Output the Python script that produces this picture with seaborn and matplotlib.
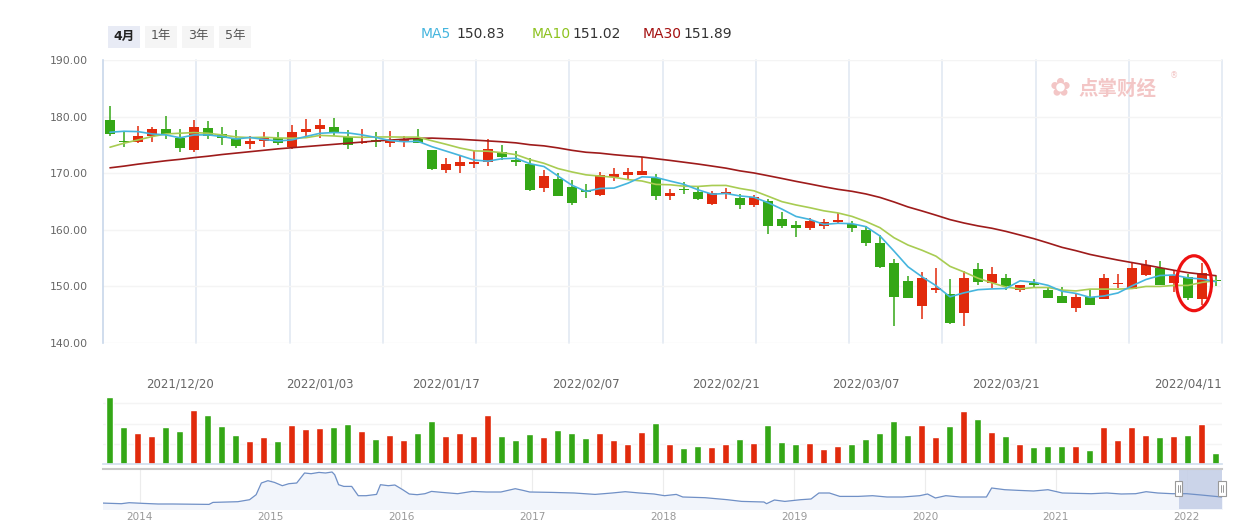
import matplotlib
matplotlib.use('Agg')
import matplotlib.pyplot as plt
import matplotlib.transforms as mtransforms
from matplotlib.patches import Ellipse, Rectangle
import numpy as np
import pandas as pd
import seaborn as sns

# daily candles, 80 sessions 2021/12 - 2022/04
opens = [179.4, 175.75, 175.6, 176.5, 177.8, 176.3, 174.1, 177.9, 176.9, 176.2,
         175.2, 175.75, 176.3, 174.7, 177.2, 177.8, 178.1, 176.35, 175.25, 175.9,
         175.3, 175.75, 176.3, 174.1, 170.5, 171.2, 171.55, 171.9, 173.7, 172.35,
         171.65, 167.3, 169.0, 167.6, 167.05, 166.2, 169.3, 169.7, 169.75, 169.2,
         165.9, 167.25, 166.7, 164.6, 166.4, 165.65, 164.4, 165.05, 161.95, 160.9,
         160.4, 160.6, 161.4, 161.1, 160.0, 157.65, 154.2, 151.0, 146.45, 149.3,
         148.65, 145.25, 153.1, 150.55, 151.55, 149.4, 150.65, 149.4, 148.35, 146.1,
         148.2, 147.8, 150.35, 149.55, 152.05, 153.3, 150.65, 151.7, 147.8, 151.2]
closes = [176.9, 175.6, 176.6, 177.8, 176.9, 174.4, 178.1, 176.65, 176.3, 174.8,
          175.7, 176.35, 175.3, 177.3, 177.8, 178.5, 177.05, 174.95, 175.55, 175.5,
          175.8, 176.05, 175.25, 170.8, 171.65, 171.9, 172.0, 174.3, 172.95, 172.05,
          167.05, 169.55, 165.9, 164.8, 166.6, 169.65, 169.9, 170.25, 170.4, 166.05,
          166.5, 166.95, 165.45, 166.5, 166.7, 164.3, 165.75, 160.75, 160.75, 160.25,
          161.6, 161.4, 161.75, 160.4, 157.6, 153.4, 148.05, 147.9, 151.55, 149.75,
          143.55, 151.55, 150.7, 152.25, 150.1, 150.3, 150.3, 148.0, 147.0, 148.2,
          146.8, 151.55, 150.65, 153.3, 153.8, 150.3, 152.05, 148.0, 152.4, 151.0]
highs = [181.9, 177.35, 178.35, 178.2, 180.1, 177.8, 179.4, 179.25, 178.2, 177.65,
         176.6, 177.2, 177.2, 178.6, 179.6, 179.6, 179.8, 177.65, 177.8, 177.3,
         177.5, 176.6, 177.8, 174.1, 172.65, 173.05, 173.95, 176.0, 175.0, 173.95,
         172.65, 170.6, 170.0, 168.8, 168.1, 170.25, 170.95, 170.95, 172.9, 169.9,
         167.25, 168.4, 167.65, 166.9, 167.4, 166.35, 166.2, 165.45, 163.2, 161.6,
         162.1, 161.95, 163.05, 161.6, 160.6, 159.0, 154.9, 151.9, 152.6, 153.3,
         151.25, 152.75, 154.2, 153.45, 152.25, 150.3, 151.25, 149.8, 149.95, 148.75,
         149.6, 152.25, 152.25, 154.3, 154.65, 154.4, 152.95, 152.25, 154.2, 151.9]
lows = [176.5, 174.7, 175.3, 175.6, 176.1, 173.8, 173.8, 176.1, 175.0, 174.5,
        174.3, 174.7, 174.9, 174.25, 176.5, 176.3, 176.5, 174.25, 175.1, 174.7,
        174.7, 174.55, 175.25, 170.5, 170.1, 170.1, 171.0, 171.35, 172.35, 171.2,
        166.9, 166.6, 165.9, 164.45, 165.55, 165.9, 168.65, 169.0, 169.6, 165.3,
        165.3, 166.4, 165.3, 164.4, 165.45, 163.7, 163.95, 159.2, 160.35, 158.65,
        159.9, 160.2, 161.2, 159.65, 157.2, 153.25, 142.95, 147.9, 144.25, 148.75,
        143.3, 142.95, 150.2, 149.75, 149.3, 149.05, 149.7, 147.9, 147.0, 145.4,
        146.8, 147.8, 149.75, 149.5, 151.9, 150.3, 148.95, 147.55, 146.7, 150.1]
volumes = [67, 37, 31, 28, 37, 33, 54, 49, 38, 29,
           23, 27, 23, 39, 35, 36, 37, 40, 33, 25,
           29, 24, 31, 43, 28, 31, 28, 49, 28, 24,
           30, 27, 34, 31, 26, 31, 24, 20, 32, 41,
           20, 16, 18, 17, 20, 25, 21, 39, 22, 20,
           21, 15, 18, 20, 25, 31, 43, 29, 39, 27,
           38, 53, 45, 32, 28, 20, 17, 18, 18, 18,
           14, 37, 24, 37, 29, 27, 28, 29, 40, 11]
ma5 = [177.24, 177.41, 177.35, 176.94, 176.76, 176.26, 176.76, 176.77, 176.47, 176.05,
       176.31, 175.96, 175.69, 175.89, 176.49, 177.05, 177.19, 177.12, 176.77, 176.31,
       175.77, 175.57, 175.63, 174.68, 173.91, 173.13, 172.32, 172.13, 172.56, 172.64,
       171.67, 171.18, 169.5, 167.87, 166.78, 167.3, 167.37, 168.24, 169.36, 169.25,
       168.62, 168.03, 167.07, 166.29, 166.42, 165.98, 165.74, 164.8, 163.65, 162.36,
       161.82, 160.95, 161.15, 161.08, 160.55, 158.91, 156.24, 153.47, 151.7, 150.13,
       148.16, 148.86, 149.42, 149.56, 149.63, 150.98, 150.73, 150.19, 149.14, 148.76,
       148.06, 148.31, 148.84, 150.1, 151.22, 151.92, 152.02, 151.49, 151.31, 150.83]
ma10 = [174.59, 175.3, 175.88, 176.47, 176.94, 177.06, 177.18, 177.06, 176.76, 176.41,
        176.29, 176.36, 176.23, 176.18, 176.27, 176.68, 176.58, 176.41, 176.33, 176.4,
        176.41, 176.38, 176.38, 175.73, 175.11, 174.45, 173.95, 173.88, 173.62, 173.28,
        172.4, 171.75, 170.82, 170.22, 169.71, 169.49, 169.28, 168.87, 168.62, 168.02,
        167.96, 167.7, 167.66, 167.83, 167.84, 167.3, 166.89, 165.94, 164.97, 164.39,
        163.9, 163.35, 162.98, 162.37, 161.46, 160.37, 158.6, 157.31, 156.39, 155.34,
        153.54, 152.55, 151.45, 150.63, 149.88, 149.57, 149.8, 149.81, 149.35, 149.2,
        149.52, 149.52, 149.52, 149.62, 149.99, 149.99, 150.17, 150.17, 150.71, 151.02]
ma30 = [170.95, 171.25, 171.6, 171.9, 172.2, 172.45, 172.75, 173.0, 173.3, 173.55,
        173.8, 174.05, 174.3, 174.5, 174.7, 174.9, 175.1, 175.3, 175.5, 175.7,
        175.85, 176.0, 176.15, 176.2, 176.1, 176.0, 175.85, 175.7, 175.55, 175.36,
        175.03, 174.83, 174.47, 174.04, 173.7, 173.54, 173.27, 173.05, 172.86, 172.56,
        172.26, 171.94, 171.62, 171.26, 170.89, 170.41, 170.04, 169.56, 169.07, 168.56,
        168.09, 167.6, 167.15, 166.8, 166.33, 165.72, 164.92, 164.04, 163.33, 162.58,
        161.8, 161.2, 160.69, 160.27, 159.72, 159.08, 158.43, 157.68, 156.9, 156.31,
        155.65, 155.14, 154.65, 154.21, 153.78, 153.31, 152.85, 152.43, 152.15, 151.89]

date_pos = [5, 15, 24, 34, 44, 54, 64, 77]
date_labels = ['2021/12/20', '2022/01/03', '2022/01/17', '2022/02/07',
               '2022/02/21', '2022/03/07', '2022/03/21', '2022/04/11']

# overview navigator (whole history, relative level)
nav_year = [2013.70, 2013.86, 2013.92, 2014.03, 2014.14, 2014.25, 2014.53, 2014.56, 2014.75, 2014.84,
            2014.89, 2014.93, 2014.98, 2015.03, 2015.09, 2015.14, 2015.20, 2015.26, 2015.31, 2015.37,
            2015.42, 2015.47, 2015.49, 2015.52, 2015.56, 2015.62, 2015.67, 2015.73, 2015.81, 2015.84,
            2015.90, 2015.95, 2016.01, 2016.06, 2016.12, 2016.18, 2016.23, 2016.31, 2016.43, 2016.54,
            2016.65, 2016.76, 2016.87, 2016.93, 2016.98, 2017.15, 2017.32, 2017.48, 2017.61, 2017.71,
            2017.82, 2017.93, 2018.01, 2018.10, 2018.15, 2018.32, 2018.49, 2018.60, 2018.77, 2018.79,
            2018.85, 2018.93, 2019.05, 2019.13, 2019.19, 2019.27, 2019.35, 2019.49, 2019.60, 2019.71,
            2019.83, 2019.96, 2020.02, 2020.08, 2020.16, 2020.27, 2020.47, 2020.51, 2020.61, 2020.72,
            2020.83, 2020.94, 2021.05, 2021.27, 2021.39, 2021.50, 2021.61, 2021.69, 2021.78, 2021.89,
            2022.00, 2022.11, 2022.22, 2022.27]
nav_level = [6.0, 5.3, 6.3, 5.6, 5.0, 5.0, 4.6, 6.6, 7.3, 9.3,
             14.3, 26.0, 28.3, 26.6, 23.3, 25.3, 26.0, 36.0, 35.3, 36.6,
             36.0, 37.0, 34.3, 24.3, 22.6, 22.6, 13.3, 13.3, 14.6, 24.3,
             23.3, 24.0, 19.3, 15.0, 14.3, 15.3, 17.6, 16.6, 15.3, 17.6,
             17.0, 17.0, 20.3, 18.6, 17.0, 16.6, 16.0, 14.6, 16.0, 17.3,
             16.0, 15.0, 13.3, 14.6, 12.0, 11.3, 9.3, 7.6, 7.0, 5.3,
             9.0, 7.6, 9.3, 10.0, 16.0, 16.0, 12.6, 12.6, 13.3, 12.0,
             12.0, 13.3, 15.0, 11.0, 13.3, 12.0, 12.0, 21.0, 19.3, 18.6,
             18.0, 19.3, 16.0, 15.3, 16.0, 15.0, 15.3, 17.3, 16.0, 15.3,
             15.3, 14.0, 12.6, 12.0]
nav_years = [2014, 2015, 2016, 2017, 2018, 2019, 2020, 2021, 2022]

sns.set_theme(style='white')
plt.rcParams['font.family'] = ['DejaVu Sans', 'Noto Sans CJK SC']

UP = '#e12a0c'
DOWN = '#34a716'
C_MA5 = '#45b5de'
C_MA10 = '#a8cc52'
C_MA30 = '#9e1b1b'

df = pd.DataFrame({'open': opens, 'close': closes, 'high': highs, 'low': lows,
                   'vol': volumes, 'ma5': ma5, 'ma10': ma10, 'ma30': ma30})
df['idx'] = np.arange(len(df))
df['dir'] = np.where(df['close'] >= df['open'], 'up', 'down')
colors = df['dir'].map({'up': UP, 'down': DOWN})

W, H = 1243, 528
fig = plt.figure(figsize=(W / 100, H / 100), dpi=100)


def box(x0, y0, x1, y1):
  return [x0 / W, 1 - y1 / H, (x1 - x0) / W, (y1 - y0) / H]


XMAX = 79.43
ax = fig.add_axes(box(103, 60, 1222, 343))
axv = fig.add_axes(box(103, 383, 1222, 464))
axn = fig.add_axes(box(103, 469, 1222, 509))

# ---- candles + moving averages
ax.vlines(df['idx'], df['low'], df['high'], colors=colors, lw=1.1, zorder=2)
body_lo = df[['open', 'close']].min(axis=1)
body_h = (df['close'] - df['open']).abs().clip(lower=0.12)
ax.bar(df['idx'], body_h, bottom=body_lo, width=0.65, color=colors, linewidth=0, zorder=2.5)
sns.lineplot(data=df, x='idx', y='ma30', color=C_MA30, lw=1.2, ax=ax, zorder=3)
sns.lineplot(data=df, x='idx', y='ma10', color=C_MA10, lw=1.2, ax=ax, zorder=3)
sns.lineplot(data=df, x='idx', y='ma5', color=C_MA5, lw=1.2, ax=ax, zorder=3)

ax.set_xlim(-0.5, XMAX)
ax.set_ylim(140, 190)
ax.set_yticks(range(140, 191, 10))
ax.set_yticklabels([f'{v:.2f}' for v in range(140, 191, 10)])
ax.set_xticks([])
ax.set_xlabel('')
ax.set_ylabel('')
ax.tick_params(axis='y', length=0, pad=11, labelsize=7.8, labelcolor='#666666')
ax.grid(axis='y', color='#f4f4f4', lw=1)
for k in range(1, 13):
  ax.axvline(-0.5 + k * (XMAX + 0.5) / 12, color='#e2e9f2', lw=1.2, zorder=0, clip_on=False)
for s in ['top', 'right', 'bottom']:
  ax.spines[s].set_visible(False)
ax.spines['left'].set_color('#c8d7ea')
ax.spines['left'].set_linewidth(1.2)

ax.add_patch(Ellipse((77.43, 150.56), width=2.5, height=9.7, fill=False,
                     ec='#ee1111', lw=2.3, zorder=6))

# ---- volume
sns.barplot(data=df, x='idx', y='vol', hue='dir', palette={'up': UP, 'down': DOWN},
            dodge=False, width=0.5, saturation=1, legend=False, ax=axv)
axv.set_xlim(-0.5, XMAX)
axv.set_ylim(0, 81)
axv.set_yticks([20.25, 40.5, 60.75])
axv.set_yticklabels([])
axv.set_xticks([])
axv.set_xlabel('')
axv.set_ylabel('')
axv.tick_params(length=0)
axv.grid(axis='y', color='#f4f4f4', lw=1)
for s in ['top', 'right', 'left']:
  axv.spines[s].set_visible(False)
axv.spines['bottom'].set_color('#d3dfee')
trans = mtransforms.blended_transform_factory(axv.transData, axv.transAxes)
for p, lab in zip(date_pos, date_labels):
  axv.text(p, 0.988, lab, transform=trans, ha='center', va='center',
           fontsize=8.5, color='#666666')

# ---- navigator
axn.fill_between(nav_year, nav_level, color='#f2f5fb', zorder=1)
axn.axvspan(2021.94, 2022.27, color='#c6d0e7', alpha=0.9, zorder=1.5, lw=0)
sns.lineplot(x=nav_year, y=nav_level, color='#7090c6', lw=0.9, estimator=None, ax=axn, zorder=2)
axn.set_xlim(2013.72, 2022.27)
axn.set_ylim(0, 40)
axn.set_xticks(nav_years)
axn.set_xticklabels([str(y) for y in nav_years])
axn.set_yticks([])
axn.tick_params(axis='x', length=0, pad=2.5, labelsize=7.5, labelcolor='#999999')
axn.grid(axis='x', color='#ececec', lw=0.8)
axn.set_axisbelow(True)
for s in ['right', 'left', 'bottom']:
  axn.spines[s].set_visible(False)
axn.spines['top'].set_color('#c9c9c9')
axn.spines['top'].set_linewidth(1.5)
for hx in [2021.94, 2022.27]:
  axn.add_patch(Rectangle((hx - 0.027, 13), 0.054, 15, fc='white', ec='#999999',
                          lw=0.8, zorder=5, clip_on=False))
  for dx in (-0.008, 0.008):
    axn.plot([hx + dx, hx + dx], [17, 24], color='#888888', lw=0.6, zorder=6, clip_on=False)

# ---- header: range buttons and MA legend
buttons = [('4月', 108, 140, '#e8ebf5', '#222222', 'bold'),
           ('1年', 145, 177, '#f5f5f5', '#555555', 'normal'),
           ('3年', 182, 214, '#f5f5f5', '#555555', 'normal'),
           ('5年', 219, 251, '#f5f5f5', '#555555', 'normal')]
for lab, x0, x1, fc, tc, fw in buttons:
  fig.add_artist(Rectangle((x0 / W, 1 - 48 / H), (x1 - x0) / W, 22 / H,
                           transform=fig.transFigure, fc=fc, ec='none'))
  fig.text((x0 + x1) / 2 / W, 1 - 36 / H, lab, ha='center', va='center',
           fontsize=9, color=tc, fontweight=fw)

legend = [('MA5', '150.83', 421, 456, C_MA5), ('MA10', '151.02', 532, 572, '#8dc21f'),
          ('MA30', '151.89', 643, 683, '#a30f0f')]
for name, val, x0, x1, c in legend:
  fig.text(x0 / W, 1 - 34 / H, name, ha='left', va='center', fontsize=10, color=c)
  fig.text(x1 / W, 1 - 34 / H, val, ha='left', va='center', fontsize=10, color='#333333')

# watermark
fig.text(1060 / W, 1 - 88 / H, '✿', ha='center', va='center', fontsize=18, color='#f3c6c6')
fig.text(1078 / W, 1 - 89 / H, '点掌财经', ha='left', va='center', fontsize=14,
         fontweight='bold', color='#f3c6c6', family=['Noto Sans CJK SC', 'DejaVu Sans'])
fig.text(1170 / W, 1 - 76 / H, '®', ha='left', va='center', fontsize=6, color='#f3c6c6')

fig.savefig('out.png', dpi=100)
